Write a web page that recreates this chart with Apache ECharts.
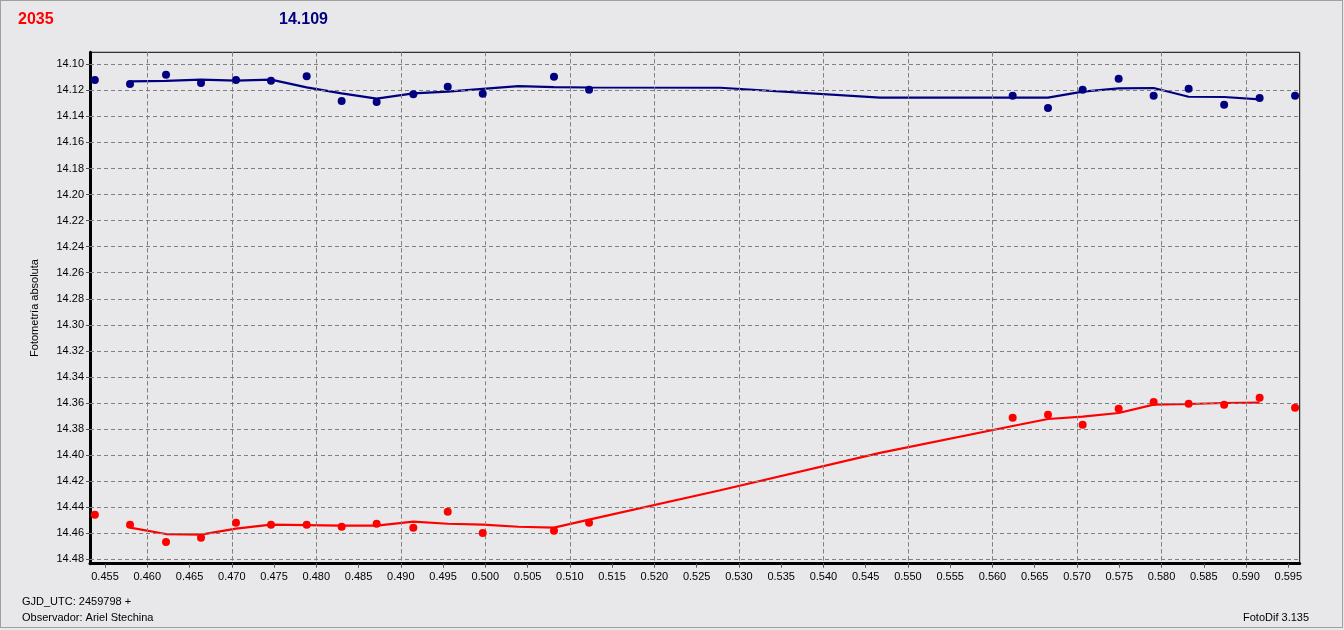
<!DOCTYPE html>
<html>
<head>
<meta charset="utf-8">
<script src="https://cdn.jsdelivr.net/npm/echarts@6/dist/echarts.min.js"></script>
<style>
html,body{margin:0;padding:0;background:#e8e8ea;}
#frame{position:absolute;left:0;top:0;width:1341px;height:626px;border:1px solid #a0a0a0;}
#chart{position:absolute;left:0;top:0;width:1344px;height:630px;}
</style>
</head>
<body>
<div id="frame"></div>
<div id="chart"></div>
<script>
// ---- data ----
const xTicks = [0.455,0.460,0.465,0.470,0.475,0.480,0.485,0.490,0.495,0.500,0.505,0.510,0.515,0.520,0.525,0.530,0.535,0.540,0.545,0.550,0.555,0.560,0.565,0.570,0.575,0.580,0.585,0.590,0.595];
const yTicks = [14.10,14.12,14.14,14.16,14.18,14.20,14.22,14.24,14.26,14.28,14.30,14.32,14.34,14.36,14.38,14.40,14.42,14.44,14.46,14.48];

const obsX = [0.4538,0.45796,0.46222,0.46636,0.4705,0.47464,0.47886,0.48300,0.48714,0.49148,0.49555,0.49969,0.50812,0.51227,0.56239,0.56657,0.57067,0.57493,0.57907,0.58321,0.58741,0.59161,0.59580];
const blueObs = [14.1121,14.1151,14.1080,14.1144,14.1121,14.1126,14.1092,14.1282,14.1289,14.1230,14.1172,14.1226,14.1095,14.1195,14.1241,14.1335,14.1195,14.1111,14.1241,14.1187,14.1310,14.1259,14.1241];
const redObs  = [14.4458,14.4534,14.4667,14.4634,14.4519,14.4534,14.4534,14.4550,14.4527,14.4557,14.4435,14.4598,14.4580,14.4519,14.3713,14.3690,14.3767,14.3644,14.3593,14.3606,14.3613,14.3560,14.3636];

const fitX = [0.45796,0.46222,0.46636,0.4705,0.47464,0.47886,0.48300,0.48714,0.49148,0.49555,0.49969,0.5039,0.50812,0.51227,0.5278,0.5467,0.56239,0.56657,0.57067,0.57493,0.57907,0.58321,0.58741,0.59161];
const blueFit = [14.1131,14.1128,14.1118,14.1126,14.1118,14.1177,14.1223,14.1264,14.1223,14.1210,14.1188,14.1168,14.1175,14.1178,14.1180,14.1256,14.1256,14.1256,14.1210,14.1185,14.1182,14.1249,14.1251,14.1269];
const redFit  = [14.4557,14.4606,14.4611,14.4565,14.4534,14.4537,14.4542,14.4542,14.4511,14.4527,14.4534,14.4550,14.4557,14.4496,14.4270,14.3983,14.3777,14.3723,14.3705,14.3677,14.3613,14.3608,14.3600,14.3598];

const titleRed = '2035';
const titleBlue = '14.109';
const yName = 'Fotometría absoluta';
const footer1 = 'GJD_UTC: 2459798 +';
const footer2 = 'Observador: Ariel Stechina';
const footer3 = 'FotoDif 3.135';

const pairs = (xs, ys) => xs.map((x, i) => [x, ys[i]]);

const FONT = '"Liberation Sans", Arial, sans-serif';
const NAVY = '#000080';
const RED = '#ff0000';

const gridLineData = xTicks.map(v => ({xAxis: v})).concat(yTicks.map(v => ({yAxis: v})));

const chart = echarts.init(document.getElementById('chart'), null, {renderer: 'canvas'});
chart.setOption({
  backgroundColor: 'transparent',
  animation: false,
  title: [
    {text: titleRed, left: 18, top: 12, padding: 0, textStyle: {color: RED, fontSize: 16, fontWeight: 'bold', fontFamily: FONT}},
    {text: titleBlue, left: 279, top: 12, padding: 0, textStyle: {color: NAVY, fontSize: 16, fontWeight: 'bold', fontFamily: FONT}}
  ],
  grid: {left: 90, right: 44.3, top: 52.3, bottom: 66.3, show: true, borderColor: '#000', borderWidth: 1, backgroundColor: 'transparent'},
  xAxis: {
    type: 'value', min: 0.453225, max: 0.59635,
    axisLine: {show: true, lineStyle: {color: '#000', width: 3}},
    axisTick: {show: true, length: 4, customValues: xTicks, lineStyle: {color: '#555'}},
    minorTick: {show: false},
    axisLabel: {customValues: xTicks, color: '#000', fontSize: 11, fontFamily: FONT, margin: 8,
      formatter: v => v.toFixed(3)},
    splitLine: {show: false}
  },
  yAxis: {
    type: 'value', inverse: true, min: 14.09079, max: 14.48338,
    name: yName, nameLocation: 'middle', nameRotate: 90, nameGap: 50,
    nameTextStyle: {color: '#000', fontSize: 11, fontFamily: FONT},
    axisLine: {show: true, lineStyle: {color: '#000', width: 3}},
    axisTick: {show: true, length: 4, customValues: yTicks, lineStyle: {color: '#555'}},
    axisLabel: {customValues: yTicks, color: '#000', fontSize: 11, fontFamily: FONT, margin: 6,
      formatter: v => v.toFixed(2)},
    splitLine: {show: false}
  },
  series: [
    {type: 'line', data: [], silent: true, z: 1,
      markLine: {silent: true, symbol: 'none', animation: false, label: {show: false},
        lineStyle: {color: '#808080', type: [4, 3], width: 1}, emphasis: {disabled: true},
        data: gridLineData}},
    {type: 'line', data: pairs(fitX, blueFit), symbol: 'none', lineStyle: {color: NAVY, width: 2.2}, z: 2},
    {type: 'line', data: pairs(fitX, redFit), symbol: 'none', lineStyle: {color: RED, width: 2.2}, z: 2},
    {type: 'scatter', data: pairs(obsX, blueObs), symbol: 'circle', symbolSize: 8, itemStyle: {color: NAVY, opacity: 1}, z: 5},
    {type: 'scatter', data: pairs(obsX, redObs), symbol: 'circle', symbolSize: 8, itemStyle: {color: RED, opacity: 1}, z: 5}
  ],
  graphic: [
    {type: 'text', left: 22, top: 596, style: {text: footer1, fill: '#000', font: '11px ' + FONT}},
    {type: 'text', left: 22, top: 612, style: {text: footer2, fill: '#000', font: '11px ' + FONT}},
    {type: 'text', left: 1243, top: 612, style: {text: footer3, fill: '#000', font: '11px ' + FONT}}
  ]
});
</script>
</body>
</html>
